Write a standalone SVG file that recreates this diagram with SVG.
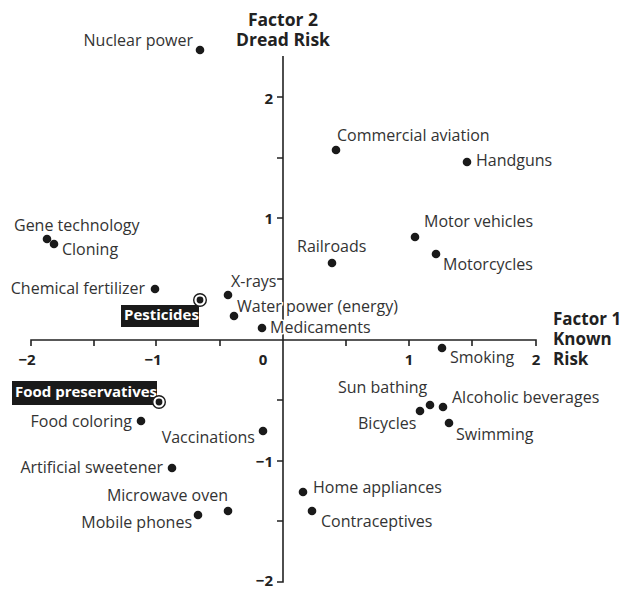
<svg xmlns="http://www.w3.org/2000/svg" width="620" height="589" viewBox="0 0 620 589">
<style>
text{font-family:"Open Sans","Noto Sans","Liberation Sans",sans-serif;fill:#333}
.lb{font-size:16px;paint-order:stroke;stroke:#fff;stroke-width:3px;stroke-linejoin:round}
.e{text-anchor:end}
.tk{font-size:15px;font-weight:bold;fill:#222}
.ax{font-size:17.5px;font-weight:bold;fill:#222}
.ax1{font-size:17px;font-weight:bold;fill:#222}
.hl{font-size:15px;font-weight:bold;fill:#fff}
.axis{stroke:#222;stroke-width:1.6;fill:none}
.dot{fill:#1a1a1a}
.ring{fill:#fff;stroke:#1a1a1a;stroke-width:1.4}
</style>
<g id="axes" class="axis">
<path d="M283,56V582H277M277,521H283M277,461H283M277,400H283M277,279H283M277,218H283M277,158H283M277,97H283"/>
<path d="M31,346V340H536V346M94,340V346M156,340V346M220,340V346M346,340V346M409,340V346M472,340V346"/>
</g>
<g id="axis-labels">
<text class="ax" text-anchor="middle"><tspan x="283" y="26">Factor 2</tspan><tspan x="283" y="46">Dread Risk</tspan></text>
<text class="ax1"><tspan x="553" y="325">Factor 1</tspan><tspan x="553" y="345">Known</tspan><tspan x="553" y="365">Risk</tspan></text>
<text class="tk" x="27" y="365" text-anchor="middle">−2</text>
<text class="tk" x="153" y="365" text-anchor="middle">−1</text>
<text class="tk" x="263" y="365" text-anchor="middle">0</text>
<text class="tk" x="409" y="365" text-anchor="middle">1</text>
<text class="tk" x="536" y="365" text-anchor="middle">2</text>
<text class="tk" x="273" y="104" text-anchor="end">2</text>
<text class="tk" x="273" y="224" text-anchor="end">1</text>
<text class="tk" x="273" y="467" text-anchor="end">−1</text>
<text class="tk" x="273" y="586" text-anchor="end">−2</text>
</g>
<g id="nuclear-power"><circle class="dot" cx="200" cy="50" r="4.3"/><text class="lb e" x="193" y="46">Nuclear power</text></g>
<g id="commercial-aviation"><circle class="dot" cx="336" cy="150" r="4.3"/><text class="lb" x="337" y="141">Commercial aviation</text></g>
<g id="handguns"><circle class="dot" cx="467" cy="162" r="4.3"/><text class="lb" x="476" y="166">Handguns</text></g>
<g id="motor-vehicles"><circle class="dot" cx="415" cy="237" r="4.3"/><text class="lb" x="424" y="227">Motor vehicles</text></g>
<g id="railroads"><circle class="dot" cx="332" cy="263" r="4.3"/><text class="lb" x="297" y="252">Railroads</text></g>
<g id="motorcycles"><circle class="dot" cx="436" cy="254" r="4.3"/><text class="lb" x="443" y="270">Motorcycles</text></g>
<g id="gene-technology"><circle class="dot" cx="47" cy="239" r="4.3"/><text class="lb" x="14" y="231">Gene technology</text></g>
<g id="cloning"><circle class="dot" cx="54" cy="244" r="4.3"/><text class="lb" x="62" y="255">Cloning</text></g>
<g id="chemical-fertilizer"><circle class="dot" cx="155" cy="289" r="4.3"/><text class="lb e" x="145" y="294">Chemical fertilizer</text></g>
<g id="x-rays"><circle class="dot" cx="228" cy="295" r="4.3"/><text class="lb" x="231" y="287">X-rays</text></g>
<g id="pesticides"><rect x="121" y="305" width="78" height="22" fill="#1a1a1a"/><text class="hl" x="124" y="320">Pesticides</text><circle class="ring" cx="200" cy="300" r="6.3"/><circle class="dot" cx="200" cy="300" r="3.4"/></g>
<g id="water-power"><circle class="dot" cx="234" cy="316" r="4.3"/><text class="lb" x="237" y="312">Water power (energy)</text></g>
<g id="medicaments"><circle class="dot" cx="262" cy="328" r="4.3"/><text class="lb" x="270" y="333">Medicaments</text></g>
<g id="smoking"><circle class="dot" cx="442" cy="348" r="4.3"/><text class="lb" x="450" y="363">Smoking</text></g>
<g id="sun-bathing"><circle class="dot" cx="430" cy="405" r="4.3"/><text class="lb" x="338" y="393">Sun bathing</text></g>
<g id="bicycles"><circle class="dot" cx="420" cy="411" r="4.3"/><text class="lb" x="358" y="429">Bicycles</text></g>
<g id="alcoholic-beverages"><circle class="dot" cx="443" cy="407" r="4.3"/><text class="lb" x="452" y="403">Alcoholic beverages</text></g>
<g id="swimming"><circle class="dot" cx="449" cy="423" r="4.3"/><text class="lb" x="456" y="440">Swimming</text></g>
<g id="food-preservatives"><rect x="12" y="381" width="145" height="24" fill="#1a1a1a"/><text class="hl" x="15" y="397">Food preservatives</text><circle class="ring" cx="159" cy="402" r="6.3"/><circle class="dot" cx="159" cy="402" r="3.4"/></g>
<g id="food-coloring"><circle class="dot" cx="141" cy="421" r="4.3"/><text class="lb e" x="132" y="427">Food coloring</text></g>
<g id="vaccinations"><circle class="dot" cx="263" cy="431" r="4.3"/><text class="lb e" x="255" y="443">Vaccinations</text></g>
<g id="artificial-sweetener"><circle class="dot" cx="172" cy="468" r="4.3"/><text class="lb e" x="163" y="473">Artificial sweetener</text></g>
<g id="microwave-oven"><circle class="dot" cx="228" cy="511" r="4.3"/><text class="lb e" x="228" y="501">Microwave oven</text></g>
<g id="mobile-phones"><circle class="dot" cx="198" cy="515" r="4.3"/><text class="lb e" x="192" y="528">Mobile phones</text></g>
<g id="home-appliances"><circle class="dot" cx="303" cy="492" r="4.3"/><text class="lb" x="313" y="493">Home appliances</text></g>
<g id="contraceptives"><circle class="dot" cx="312" cy="511" r="4.3"/><text class="lb" x="321" y="527">Contraceptives</text></g>
</svg>
